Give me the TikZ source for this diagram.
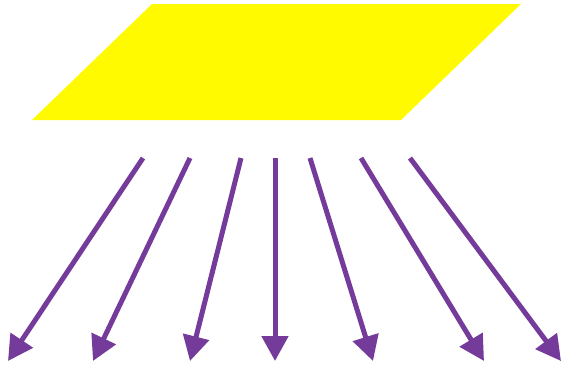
\documentclass[tikz,border=0pt]{standalone}
\usepackage{tikz}
\usetikzlibrary{arrows.meta}
\definecolor{raypurple}{RGB}{117,59,154}
\definecolor{panelyellow}{RGB}{255,250,0}
\tikzset{
  panel/.style={fill=panelyellow,draw=none},
  ray/.style={-{Triangle[length=0.5cm,width=0.52cm]},line width=0.1cm,draw=raypurple},
}

\begin{document}
\begin{tikzpicture}[x=0.02cm,y=-0.02cm]
        \useasboundingbox (0,0) rectangle (564,366);
        % the lit panel
        \fill[panel] (152,4) -- (521,4) -- (401,120) -- (32,120) -- cycle;
        % rays going down from under the panel
        \foreach \n/\xs/\xe in {1/143/8,2/190/93,3/241/190,4/275/275,5/310/373,6/361/484,7/410/561}{
          \coordinate (src\n) at (\xs,158);
          \coordinate (dst\n) at (\xe,361);
          \draw[ray] (src\n) -- (dst\n);
        }
      \end{tikzpicture}
\end{document}
